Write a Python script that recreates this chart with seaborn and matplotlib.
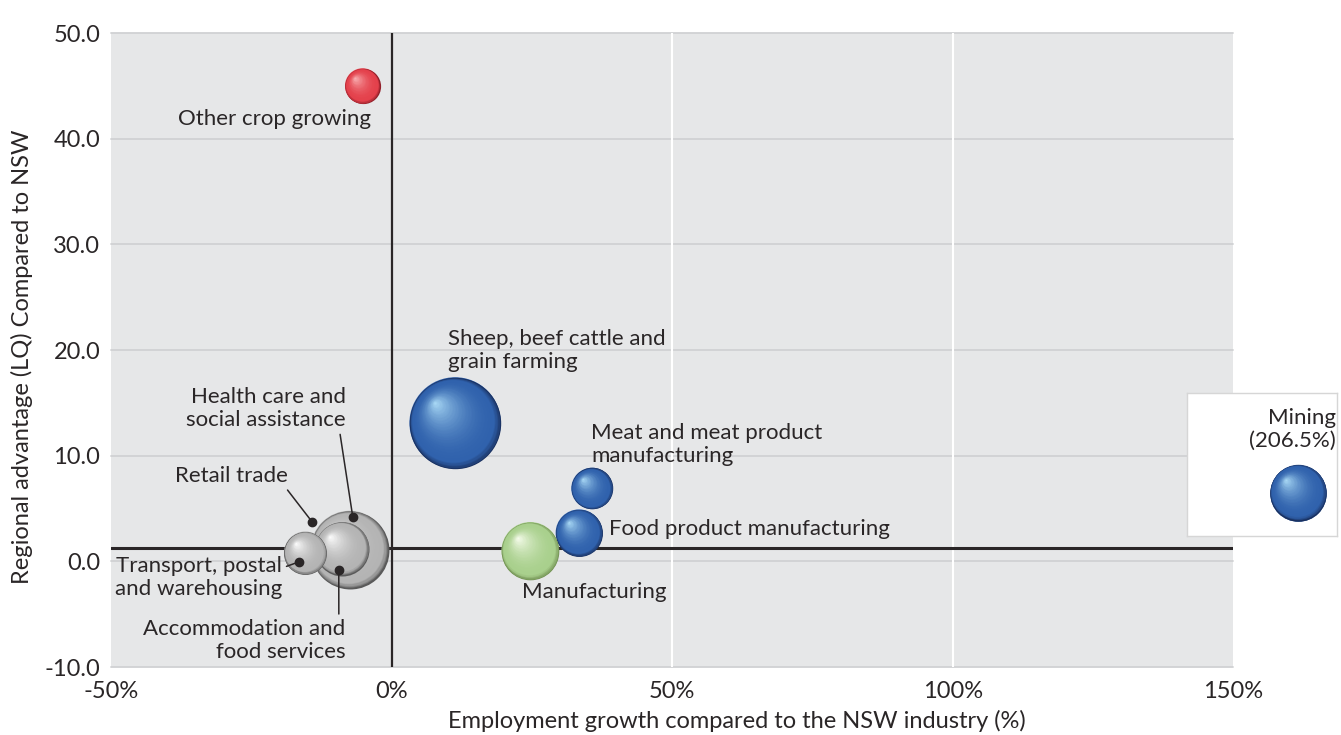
import numpy as np
import pandas as pd
import seaborn as sns
import matplotlib
matplotlib.use('Agg')
import matplotlib.pyplot as plt
from matplotlib import transforms as mtransforms
from matplotlib.colors import to_rgb
from matplotlib.ticker import FuncFormatter

# values
industries = ['Other crop growing', 'Sheep, beef cattle and grain farming',
              'Meat and meat product manufacturing', 'Food product manufacturing',
              'Manufacturing', 'Retail trade', 'Health care and social assistance',
              'Accommodation and food services', 'Transport, postal and warehousing',
              'Mining']
labels = ['Other crop growing', 'Sheep, beef cattle and\ngrain farming',
          'Meat and meat product\nmanufacturing', 'Food product manufacturing',
          'Manufacturing', 'Retail trade', 'Health care and\nsocial assistance',
          'Accommodation and\nfood services', 'Transport, postal\nand warehousing',
          'Mining\n(206.5%)']
growth = [-5.2, 11.3, 35.7, 33.4, 24.7, -9.6, -7.5, -8.9, -15.4, 206.5]
lq = [45.0, 13.1, 6.9, 2.7, 1.0, 1.3, 1.1, 1.2, 0.8, 6.5]
jobs = [310, 2090, 430, 550, 830, 700, 1520, 730, 460, 800]
group = ['emerging', 'specialised', 'specialised', 'specialised', 'manufacturing',
         'services', 'services', 'services', 'services', 'specialised']
lq_line = 1.3

df = pd.DataFrame({'industry': industries, 'label': labels, 'growth': growth,
                   'lq': lq, 'jobs': jobs, 'group': group})

# dark rim, body, highlight for each group
shades = {'specialised': ('#1a3160', '#3062ad', '#acdcf7'),
          'emerging': ('#93202a', '#e4414c', '#fab4b6'),
          'manufacturing': ('#708f50', '#a9d08d', '#f8fdee'),
          'services': ('#5a5a5a', '#b4b4b4', '#ffffff')}
palette = {k: v[1] for k, v in shades.items()}

# label layout in points: (text dx, text dy, ha, va, dot dx, dot dy, relpos)
layout = {
    'Other crop growing': (5.8, -23.8, 'right', 'center', None, None, None),
    'Sheep, beef cattle and grain farming': (-5, 36.7, 'left', 'bottom', None, None, None),
    'Meat and meat product manufacturing': (-0.7, 15.8, 'left', 'bottom', None, None, None),
    'Food product manufacturing': (21.6, 2.9, 'left', 'center', None, None, None),
    'Manufacturing': (-5.8, -29.5, 'left', 'center', None, None, None),
    'Retail trade': (-17.3, 25.9, 'right', 'bottom', -18.7, 18.7, (0.96, 0.05)),
    'Health care and social assistance': (-5, 62.6, 'right', 'bottom', 2.2, 23.8, (0.96, 0.0)),
    'Accommodation and food services': (5, -35.3, 'right', 'top', -2.2, -15.1, (0.966, 1.0)),
    'Transport, postal and warehousing': (-12.2, 4.3, 'right', 'top', -4.7, -6.5, (1.0, 0.72)),
    'Mining': (27.4, 30.2, 'right', 'bottom', None, None, None),
}

sns.set_style('white')
plt.rcParams['font.family'] = ['Lato', 'DejaVu Sans']
ink = '#2a2627'
fs_axis = 17
fs_note = 16

fig = plt.figure(figsize=(13.41, 7.35), dpi=100)
ax = fig.add_axes([0.083, 0.0925, 0.8365, 0.8626])

main = df[df.growth <= 150]
side = df[df.growth > 150]
size_kw = dict(size='jobs', sizes=(0, 4330), size_norm=(0, 2090),
               hue='group', palette=palette, legend=False, linewidth=0)

sns.scatterplot(data=main, x='growth', y='lq', ax=ax, zorder=3, **size_kw)
ax.set_xlim(-50, 150)
ax.set_ylim(-10, 50)
ax.set_facecolor('#e6e7e8')
ax.set_xticks([-50, 0, 50, 100, 150])
ax.set_yticks([-10, 0, 10, 20, 30, 40, 50])
ax.xaxis.set_major_formatter(FuncFormatter(lambda v, p: f'{v:.0f}%'))
ax.yaxis.set_major_formatter(FuncFormatter(lambda v, p: f'{v:.1f}'))
ax.tick_params(axis='y', length=0, labelsize=fs_axis, labelcolor=ink, pad=8)
ax.tick_params(axis='x', length=0, labelsize=fs_axis, labelcolor=ink, pad=10)
for s in ax.spines.values():
    s.set_visible(False)
ax.grid(False)
for v in [-10, 0, 10, 20, 30, 40, 50]:
    ax.axhline(v, color='#d0d1d3', lw=1.3, zorder=0.5, clip_on=False)
for v in [50, 100]:
    ax.axvline(v, color='white', lw=1.5, zorder=0.5)
ax.axvline(0, color=ink, lw=1.6, zorder=2)
ax.axhline(lq_line, color=ink, lw=2.2, zorder=2)

ax.set_xlabel('Employment growth compared to the NSW industry (%)', fontsize=fs_axis, color=ink)
ax.set_ylabel('Regional advantage (LQ) Compared to NSW', fontsize=fs_axis, color=ink)
ax.xaxis.set_label_coords(0.5575, -0.068)
ax.yaxis.set_label_coords(-0.07, 0.489)

# white box holding the off-scale Mining bubble
box = [0.8852, 0.2707, 0.1119, 0.1946]
ins = fig.add_axes(box)
ins.set_facecolor('white')
for s in ins.spines.values():
    s.set_color('#d6d6d6')
    s.set_linewidth(1)
ins.set_xticks([])
ins.set_yticks([])
fig.canvas.draw()
corners = fig.transFigure.transform([[box[0], box[1]], [box[0] + box[2], box[1] + box[3]]])
(_, y0), (_, y1) = ax.transData.inverted().transform(corners)
ins.set_ylim(y0, y1)
wdata = box[2] * 200 / 0.8365
mx = side.growth.iloc[0]
ins.set_xlim(mx - 0.74 * wdata, mx + 0.26 * wdata)
sns.scatterplot(data=side, x='growth', y='lq', ax=ins, zorder=3, **size_kw)
ins.set_xlabel('')
ins.set_ylabel('')


def draw_spheres(axis, data, n=50, z0=4):
    coll = axis.collections[-1]
    areas = coll.get_sizes()
    for i, (x, y, g, s) in enumerate(zip(data.growth, data.lq, data.group, areas)):
        r = np.sqrt(s) / 2
        dark, body, light = [np.array(to_rgb(c)) for c in shades[g]]
        for k in range(n):
            t = k / n
            if t < 0.1:
                c = dark + (body - dark) * (t / 0.1) ** 0.7
            else:
                c = body + (light - body) * ((t - 0.1) / 0.9) ** 2.0
            tr = mtransforms.offset_copy(axis.transData, fig=fig, x=-0.45 * r * t,
                                         y=0.45 * r * t, units='points')
            axis.scatter([x], [y], s=(2 * r * (1 - t)) ** 2, color=[c], linewidths=0,
                         transform=tr, zorder=z0 + i * 0.1 + k * 0.001)


draw_spheres(ax, main)
draw_spheres(ins, side)


def add_label(axis, row):
    tdx, tdy, ha, va, ddx, ddy, rel = layout[row.industry]
    if ddx is None:
        axis.annotate(row.label, xy=(row.growth, row.lq), xytext=(tdx, tdy),
                      textcoords='offset points', ha=ha, va=va, ma=ha,
                      fontsize=fs_note, color=ink, zorder=10)
        return
    dot_tr = mtransforms.offset_copy(axis.transData, fig=fig, x=ddx, y=ddy, units='points')
    axis.plot([row.growth], [row.lq], 'o', ms=6, color=ink, transform=dot_tr, zorder=10)
    axis.annotate(row.label, xy=(row.growth, row.lq), xycoords=dot_tr, xytext=(tdx, tdy),
                  textcoords='offset points', ha=ha, va=va, ma=ha, fontsize=fs_note,
                  color=ink, zorder=10,
                  arrowprops=dict(arrowstyle='-', color=ink, lw=1.1,
                                  shrinkA=1, shrinkB=0, relpos=rel))


for _, row in main.iterrows():
    add_label(ax, row)
for _, row in side.iterrows():
    add_label(ins, row)

fig.savefig('out.png', dpi=100)
plt.close(fig)
